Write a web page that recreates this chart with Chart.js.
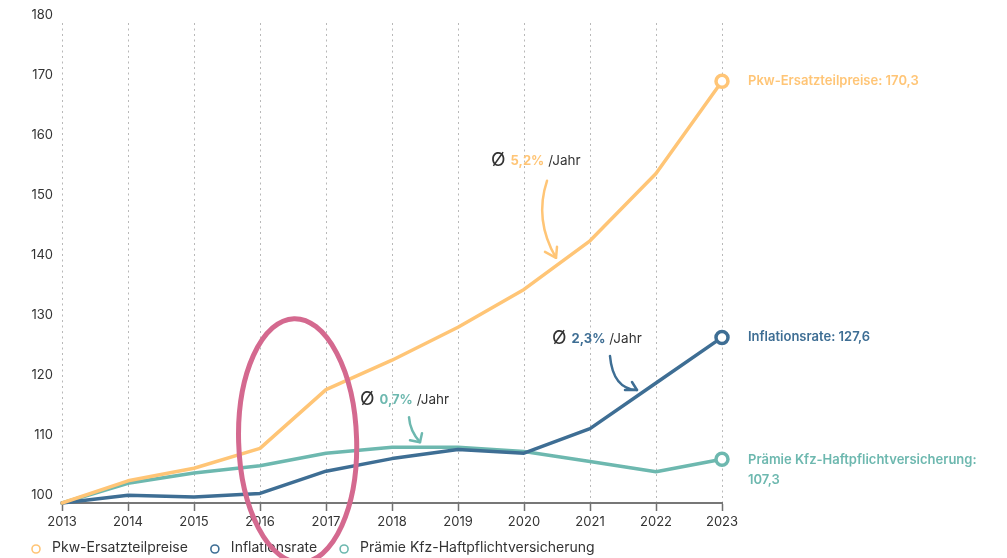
<!DOCTYPE html>
<html lang="de">
<head>
<meta charset="utf-8">
<script src="https://cdn.jsdelivr.net/npm/chart.js@4.4.1/dist/chart.umd.min.js"></script>
<style>
  html, body { margin: 0; padding: 0; background: #ffffff; }
  #wrap { width: 1007px; height: 558px; position: relative; }
</style>
</head>
<body>
<div id="wrap"><canvas id="c" width="1007" height="558"></canvas></div>
<script>
// Index 2013 = 100
const years = ['2013', '2014', '2015', '2016', '2017', '2018', '2019', '2020', '2021', '2022', '2023'];
const pkwErsatzteilpreise = [100, 103.7, 105.8, 109.1, 118.9, 123.8, 129.3, 135.6, 143.7, 154.9, 170.3];
const inflationsrate      = [100, 101.3, 101.0, 101.6, 105.3, 107.4, 108.9, 108.3, 112.4, 120.0, 127.6];
const kfzPraemie          = [100, 103.3, 105.0, 106.2, 108.3, 109.3, 109.3, 108.6, 106.9, 105.2, 107.3];

const seriesNames  = ['Pkw-Ersatzteilpreise', 'Inflationsrate', 'Prämie Kfz-Haftpflichtversicherung'];
const seriesColors = ['#FFC576', '#3E6E94', '#6DB8AF'];
const avgGrowth    = ['5,2%', '2,3%', '0,7%'];

const yMin = 100, yMax = 180, yStep = 10;

const FONT = 'Inter, "Liberation Sans", Arial, sans-serif';
const TEXT = '#333333';

// Callouts "Ø x% /Jahr": anchor in data space (year index, value),
// arrow drawn relative to the anchor in pixels.
const callouts = [
  { series: 0, at: [6.5, 157.2],   arrow: { from: [56, 21], ctrl: [43, 60], to: [65, 98], arms: [[-11, -6], [1, -11]] } },
  { series: 1, at: [7.424, 127.5], arrow: { from: [58, 18], ctrl: [61, 51], to: [85, 52], arms: [[-12, 0], [-5, -8]] } },
  { series: 2, at: [4.515, 117.3], arrow: { from: [49, 18], ctrl: [50, 32], to: [60, 43], arms: [[-10, -2], [2, -9]] } }
];

// Highlight ring around the 2016–2017 jump
const highlight = { at: [3.57, 110.4], rx: 59, ry: 122, rot: -0.03, color: '#D4698F', width: 5 };

const seriesData = [pkwErsatzteilpreise, inflationsrate, kfzPraemie];
const lastIdx = years.length - 1;

function fmt(v) { return v.toFixed(1).replace('.', ','); }

const decorations = {
  id: 'decorations',
  afterDatasetsDraw(chart) {
    const ctx = chart.ctx;
    const xs = chart.scales.x, ys = chart.scales.y;

    // end-of-line value labels
    ctx.save();
    ctx.textBaseline = 'middle';
    ctx.textAlign = 'left';
    ctx.font = '600 13px ' + FONT;
    chart.data.datasets.forEach((ds, i) => {
      const pt = chart.getDatasetMeta(i).data[lastIdx];
      const x = pt.x + 26, y = pt.y;
      ctx.fillStyle = seriesColors[i];
      if (i === 2) {
        ctx.fillText(ds.label + ':', x, y + 1);
        ctx.fillText(fmt(ds.data[lastIdx]), x, y + 21);
      } else {
        ctx.fillText(ds.label + ': ' + fmt(ds.data[lastIdx]), x, y);
      }
    });
    ctx.restore();

    // average-growth callouts
    callouts.forEach(c => {
      const ax = xs.getPixelForValue(c.at[0]);
      const ay = ys.getPixelForValue(c.at[1]);
      const col = seriesColors[c.series];
      ctx.save();
      ctx.textBaseline = 'middle';
      ctx.textAlign = 'left';
      ctx.font = '400 19px ' + FONT;
      ctx.fillStyle = TEXT;
      ctx.fillText('Ø', ax, ay);
      let x = ax + ctx.measureText('Ø').width + 5;
      ctx.font = '700 13px ' + FONT;
      ctx.fillStyle = col;
      ctx.fillText(avgGrowth[c.series], x, ay + 1);
      x += ctx.measureText(avgGrowth[c.series]).width + 4;
      ctx.font = '400 13.5px ' + FONT;
      ctx.fillStyle = TEXT;
      ctx.fillText('/Jahr', x, ay + 1);

      const a = c.arrow;
      ctx.strokeStyle = col;
      ctx.lineWidth = 2.5;
      ctx.lineCap = 'round';
      ctx.lineJoin = 'round';
      ctx.beginPath();
      ctx.moveTo(ax + a.from[0], ay + a.from[1]);
      ctx.quadraticCurveTo(ax + a.ctrl[0], ay + a.ctrl[1], ax + a.to[0], ay + a.to[1]);
      ctx.stroke();
      const tx = ax + a.to[0], ty = ay + a.to[1];
      ctx.beginPath();
      ctx.moveTo(tx + a.arms[0][0], ty + a.arms[0][1]);
      ctx.lineTo(tx, ty);
      ctx.lineTo(tx + a.arms[1][0], ty + a.arms[1][1]);
      ctx.stroke();
      ctx.restore();
    });
  },
  afterDraw(chart) {
    const ctx = chart.ctx;
    const xs = chart.scales.x, ys = chart.scales.y;

    // legend row
    ctx.save();
    ctx.font = '400 14px ' + FONT;
    ctx.textBaseline = 'middle';
    ctx.textAlign = 'left';
    let lx = 36;
    const ly = 549;
    chart.data.datasets.forEach((ds, i) => {
      ctx.beginPath();
      ctx.arc(lx, ly, 4, 0, Math.PI * 2);
      ctx.strokeStyle = seriesColors[i];
      ctx.lineWidth = 1.6;
      ctx.stroke();
      ctx.fillStyle = TEXT;
      ctx.fillText(ds.label, lx + 16, ly - 1);
      lx += 16 + ctx.measureText(ds.label).width + 27;
    });
    ctx.restore();

    // highlight ring
    const cx = xs.getPixelForValue(highlight.at[0]);
    const cy = ys.getPixelForValue(highlight.at[1]);
    ctx.save();
    ctx.beginPath();
    ctx.ellipse(cx, cy, highlight.rx, highlight.ry, highlight.rot, 0, Math.PI * 2);
    ctx.strokeStyle = highlight.color;
    ctx.lineWidth = highlight.width;
    ctx.stroke();
    ctx.restore();
  }
};

function makeDataset(i) {
  return {
    label: seriesNames[i],
    data: seriesData[i],
    borderColor: seriesColors[i],
    backgroundColor: seriesColors[i],
    borderWidth: 3.5,
    borderJoinStyle: 'round',
    borderCapStyle: 'round',
    tension: 0,
    clip: false,
    pointRadius: c => (c.dataIndex === lastIdx ? 6 : 0),
    pointHoverRadius: c => (c.dataIndex === lastIdx ? 6 : 0),
    pointBorderWidth: 3.5,
    pointBorderColor: seriesColors[i],
    pointBackgroundColor: '#ffffff'
  };
}

new Chart(document.getElementById('c'), {
  type: 'line',
  data: {
    labels: years,
    datasets: [makeDataset(0), makeDataset(1), makeDataset(2)]
  },
  plugins: [decorations],
  options: {
    responsive: false,
    animation: false,
    events: [],
    layout: { padding: { top: 23, right: 285, bottom: 31, left: 0 } },
    plugins: {
      legend: { display: false },
      tooltip: { enabled: false }
    },
    scales: {
      x: {
        type: 'category',
        offset: false,
        afterFit: s => { s.height = 24; },
        border: { display: true, color: '#777777', width: 2, dash: [2, 3.5] },
        grid: {
          display: true,
          drawOnChartArea: true,
          color: '#b8b8b8',
          lineWidth: 1,
          tickLength: 8,
          tickColor: '#707070',
          tickWidth: 1.5,
          tickBorderDash: [6, 0]
        },
        ticks: {
          color: TEXT,
          font: { family: FONT, size: 13 },
          padding: 3,
          maxRotation: 0,
          autoSkip: false
        }
      },
      y: {
        min: yMin,
        max: yMax,
        afterFit: s => { s.width = 62; },
        border: { display: false },
        grid: { display: false, drawTicks: false },
        ticks: {
          stepSize: yStep,
          color: TEXT,
          font: { family: FONT, size: 13 },
          padding: 9,
          labelOffset: -8
        }
      }
    }
  }
});
</script>
</body>
</html>
